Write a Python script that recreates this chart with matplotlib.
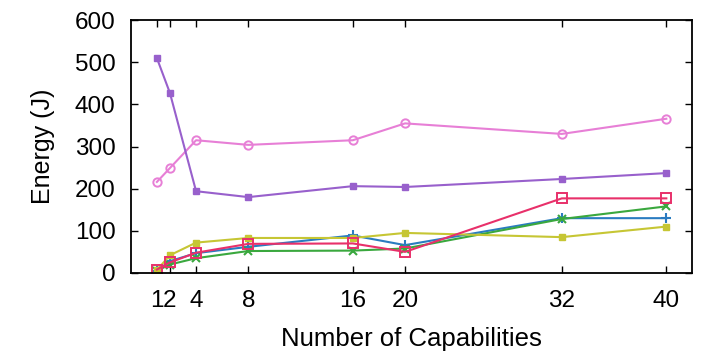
import matplotlib
matplotlib.use("Agg")
import matplotlib.pyplot as plt

plt.rcParams['font.family'] = ['Liberation Sans', 'DejaVu Sans']

capabilities = [1, 2, 4, 8, 16, 20, 32, 40]
xtick_labels = ['1', '2', '4', '8', '16', '20', '32', '40']

pink = [216, 249, 315, 304, 315, 355, 330, 366]
purple = [510, 427, 194, 180, 206, 204, 223, 237]
crimson = [8, 25, 48, 69, 70, 50, 177, 177]
green = [5, 20, 35, 52, 53, 58, 128, 158]
blue = [5, 28, 47, 62, 89, 66, 130, 130]
olive = [7, 42, 72, 83, 83, 95, 85, 110]

fig = plt.figure(figsize=(7.03, 3.54), dpi=100)
ax = fig.add_axes([0.186, 0.229, 0.799, 0.714])

ax.plot(capabilities, pink, '-o', color='#e77fd6', mfc='none', ms=6, mew=1.4, lw=1.5)
ax.plot(capabilities, purple, '-s', color='#9860cc', ms=5, lw=1.5)
ax.plot(capabilities, blue, '-+', color='#2a7cc0', ms=7, mew=1.5, lw=1.5)
ax.plot(capabilities, green, '-x', color='#3aa83e', ms=6, mew=1.5, lw=1.5)
ax.plot(capabilities, olive, '-s', color='#c6c634', ms=5, lw=1.5)
ax.plot(capabilities, crimson, '-s', color='#e8306a', mfc='none', ms=6.5, mew=1.4, lw=1.5)

ax.set_xlim(-1, 42)
ax.set_ylim(0, 600)
ax.set_xticks(capabilities)
ax.set_xticklabels(xtick_labels)
ax.set_yticks(range(0, 601, 100))

ax.tick_params(direction='in', top=True, right=True, length=5, width=1,
               labelsize=17.5)
ax.tick_params(axis='y', pad=11)
ax.tick_params(axis='x', pad=12)
for sp in ax.spines.values():
    sp.set_linewidth(1.3)

ax.set_xlabel('Number of Capabilities', fontsize=18.5, labelpad=11)
ax.set_ylabel('Energy (J)', fontsize=18, labelpad=14)

fig.savefig('out.png', dpi=100)
